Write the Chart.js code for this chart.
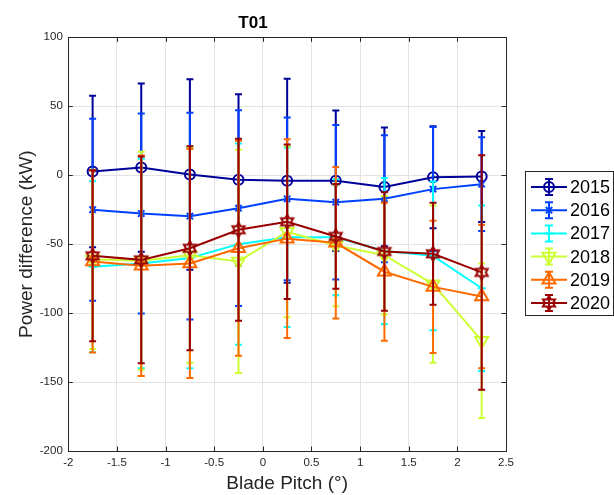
<!DOCTYPE html>
<html>
<head>
<meta charset="utf-8">
<script src="https://cdn.jsdelivr.net/npm/chart.js@4.4.1/dist/chart.umd.min.js"></script>
<style>
  html, body { margin: 0; padding: 0; background: #ffffff; }
  #wrap { width: 614px; height: 495px; }
</style>
</head>
<body>
<div id="wrap"><canvas id="c" width="614" height="495"></canvas></div>
<script>
// ---- data ----
const pitch = [-1.75, -1.25, -0.75, -0.25, 0.25, 0.75, 1.25, 1.75, 2.25];
const years = ['2015', '2016', '2017', '2018', '2019', '2020'];

const mean2015 = [2.7, 5.5, 0.5, -3.3, -4, -4, -8.5, -1.5, -1];
const err2015  = [55, 61, 69, 62, 74, 51, 43, 37, 33];

const mean2016 = [-25, -27.8, -29.7, -23.9, -17.1, -19.6, -17.1, -10.1, -6.5];
const err2016  = [66, 72.5, 75, 71, 59, 56, 46, 45, 34];

const mean2017 = [-66.4, -64, -60, -50, -45, -45, -55, -58.5, -82];
const err2017  = [62, 76, 80, 73, 65, 42, 53, 54, 60];

const mean2018 = [-61, -62, -58, -62.5, -41, -51, -58, -79, -120];
const err2018  = [65, 79, 78, 81, 62, 44, 43, 57, 56];

const mean2019 = [-62.6, -65.7, -64, -53, -46, -49, -70, -81, -88];
const err2019  = [66, 80, 83, 78, 72, 55, 50, 48, 52];

const mean2020 = [-58.5, -61.4, -53, -39.6, -33.8, -44.4, -55.3, -57, -70.5];
const err2020  = [62, 75, 74, 66, 56, 38, 43, 37, 85];

const yTicks = [-200, -150, -100, -50, 0, 50, 100];
const xTicks = [-2, -1.5, -1, -0.5, 0, 0.5, 1, 1.5, 2, 2.5];

const means = [mean2015, mean2016, mean2017, mean2018, mean2019, mean2020];
const errs  = [err2015, err2016, err2017, err2018, err2019, err2020];

// ---- styles ----
const colors = ['#000099', '#0040ff', '#00ffff', '#ccff33', '#ff6a00', '#990000'];

function hexagram(color) {
  const c = document.createElement('canvas');
  c.width = 18; c.height = 18;
  const g = c.getContext('2d');
  g.strokeStyle = color; g.lineWidth = 2; g.lineJoin = 'miter';
  const R = 7, r = R / Math.sqrt(3);
  g.beginPath();
  for (let j = 0; j < 12; j++) {
    const a = -Math.PI / 2 + j * Math.PI / 6;
    const rr = (j % 2 === 0) ? R : r;
    const px = 9 + rr * Math.cos(a), py = 9 + rr * Math.sin(a);
    if (j === 0) g.moveTo(px, py); else g.lineTo(px, py);
  }
  g.closePath(); g.stroke();
  return c;
}

const markers = [
  { style: 'circle', radius: 5, rotation: 0 },
  { style: 'crossRot', radius: 4.5, rotation: 0 },
  { style: 'cross', radius: 4, rotation: 0 },
  { style: 'triangle', radius: 7.5, rotation: 180 },
  { style: 'triangle', radius: 7.5, rotation: 0 },
  { style: hexagram(colors[5]), radius: 7, rotation: 0 }
];

const FONT = '"Liberation Sans", Arial, Helvetica, sans-serif';
const AX = '#262626';

const datasets = years.map((y, i) => ({
  label: y,
  data: pitch.map((x, k) => ({ x: x, y: means[i][k] })),
  errs: errs[i],
  borderColor: colors[i],
  backgroundColor: colors[i],
  borderWidth: 2,
  pointStyle: markers[i].style,
  pointRadius: markers[i].radius,
  pointRotation: markers[i].rotation,
  pointBorderWidth: 2,
  pointBorderColor: colors[i],
  pointBackgroundColor: 'rgba(0,0,0,0)',
  pointHoverRadius: markers[i].radius,
  tension: 0,
  order: years.length - 1 - i
}));

// error bars drawn through the chart's own scales, just under each dataset
const errorBars = {
  id: 'errorBars',
  beforeDatasetDraw(chart, args) {
    const ds = chart.data.datasets[args.index];
    const xs = chart.scales.x, ys = chart.scales.y;
    const ctx = chart.ctx;
    ctx.save();
    ctx.strokeStyle = ds.borderColor;
    ctx.lineWidth = 2;
    ctx.lineCap = 'butt';
    ds.data.forEach((p, k) => {
      const e = ds.errs[k];
      const px = xs.getPixelForValue(p.x);
      const y1 = ys.getPixelForValue(p.y + e);
      const y2 = ys.getPixelForValue(p.y - e);
      const w = 3.5;
      ctx.beginPath();
      ctx.moveTo(px, y1); ctx.lineTo(px, y2);
      ctx.moveTo(px - w, y1); ctx.lineTo(px + w, y1);
      ctx.moveTo(px - w, y2); ctx.lineTo(px + w, y2);
      ctx.stroke();
    });
    ctx.restore();
  }
};

// axes box, inner ticks and legend (MATLAB style)
const frame = {
  id: 'frame',
  afterDraw(chart) {
    const ctx = chart.ctx;
    const a = chart.chartArea;
    const xs = chart.scales.x, ys = chart.scales.y;
    ctx.save();
    ctx.strokeStyle = AX;
    ctx.lineWidth = 1;
    ctx.strokeRect(Math.round(a.left) + 0.5, Math.round(a.top) + 0.5,
                   Math.round(a.right - a.left), Math.round(a.bottom - a.top));
    const tl = 4.5;
    ctx.beginPath();
    xTicks.forEach(v => {
      const px = Math.round(xs.getPixelForValue(v)) + 0.5;
      ctx.moveTo(px, a.bottom); ctx.lineTo(px, a.bottom - tl);
      ctx.moveTo(px, a.top); ctx.lineTo(px, a.top + tl);
    });
    yTicks.forEach(v => {
      const py = Math.round(ys.getPixelForValue(v)) + 0.5;
      ctx.moveTo(a.left, py); ctx.lineTo(a.left + tl, py);
      ctx.moveTo(a.right, py); ctx.lineTo(a.right - tl, py);
    });
    ctx.stroke();

    // legend
    const lx = 525.5, ly = 171.5, lw = 88, lh = 144;
    ctx.fillStyle = '#ffffff';
    ctx.fillRect(lx, ly, lw, lh);
    ctx.strokeStyle = AX;
    ctx.lineWidth = 1;
    ctx.strokeRect(lx, ly, lw, lh);
    ctx.font = '18px ' + FONT;
    ctx.textBaseline = 'middle';
    ctx.textAlign = 'left';
    chart.data.datasets.forEach((ds, i) => {
      const cy = 187 + i * 23.2;
      ctx.strokeStyle = ds.borderColor;
      ctx.lineWidth = 2;
      ctx.beginPath();
      ctx.moveTo(531, cy); ctx.lineTo(567, cy);
      ctx.moveTo(549, cy - 8); ctx.lineTo(549, cy + 8);
      ctx.moveTo(545, cy - 8); ctx.lineTo(553, cy - 8);
      ctx.moveTo(545, cy + 8); ctx.lineTo(553, cy + 8);
      ctx.stroke();
      ctx.fillStyle = 'rgba(0,0,0,0)';
      Chart.helpers.drawPoint(ctx, {
        pointStyle: ds.pointStyle,
        radius: ds.pointRadius,
        rotation: ds.pointRotation,
        borderWidth: 2
      }, 549, cy);
      ctx.fillStyle = '#000000';
      ctx.fillText(ds.label, 570, cy + 1);
    });
    ctx.restore();
  }
};

new Chart(document.getElementById('c'), {
  type: 'line',
  data: { datasets: datasets },
  plugins: [errorBars, frame],
  options: {
    responsive: false,
    animation: false,
    events: [],
    layout: { padding: { left: 0, right: 108, top: 0, bottom: 0 } },
    plugins: {
      legend: { display: false },
      tooltip: { enabled: false },
      title: {
        display: true,
        text: 'T01',
        color: '#000000',
        font: { family: FONT, size: 17, weight: 'bold' },
        padding: { top: 13.5, bottom: 3.4 }
      }
    },
    scales: {
      x: {
        type: 'linear',
        min: -2, max: 2.5,
        afterBuildTicks(scale) { scale.ticks = xTicks.map(v => ({ value: v })); },
        afterFit(scale) { scale.height = 44; },
        ticks: {
          color: AX, font: { family: FONT, size: 11.5 }, padding: 5, maxRotation: 0, autoSkip: false,
          callback: (v) => String(v)
        },
        grid: { color: '#e3e3e3', lineWidth: 1, drawTicks: false },
        border: { display: false },
        title: {
          display: true, text: 'Blade Pitch (°)', color: AX,
          font: { family: FONT, size: 19 }, padding: { top: 0, bottom: 0 }
        }
      },
      y: {
        type: 'linear',
        min: -200, max: 100,
        afterBuildTicks(scale) { scale.ticks = yTicks.map(v => ({ value: v })); },
        afterFit(scale) { scale.width = 68.3; },
        ticks: {
          color: AX, font: { family: FONT, size: 11.5 }, padding: 5.5, autoSkip: false,
          callback: (v) => String(v)
        },
        grid: { color: '#e3e3e3', lineWidth: 1, drawTicks: false },
        border: { display: false },
        title: {
          display: true, text: 'Power difference (kW)', color: AX,
          font: { family: FONT, size: 19 }, padding: { top: 15.6, bottom: 0 }
        }
      }
    }
  }
});
</script>
</body>
</html>
